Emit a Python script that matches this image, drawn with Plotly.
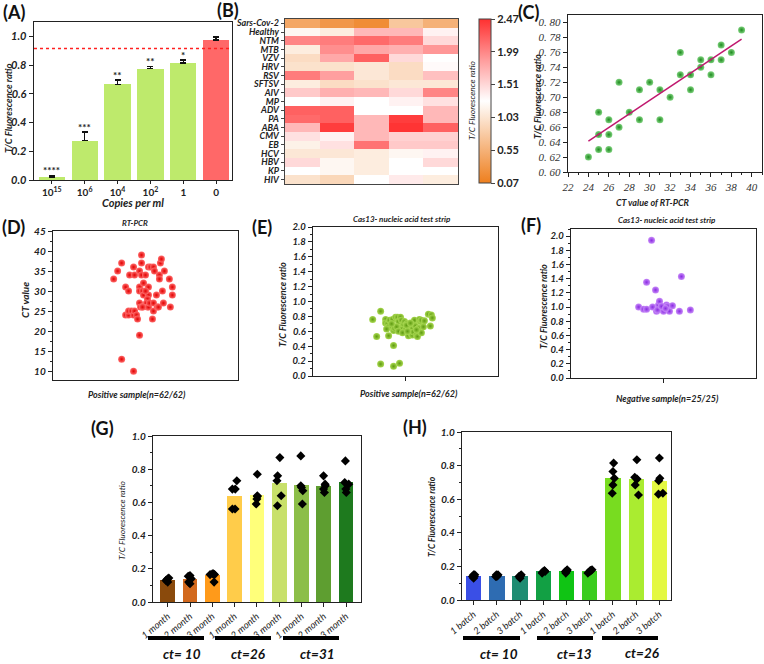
import numpy as np
import plotly.graph_objects as go

W, H = 764, 664
def px(x): return x / W
def py(y): return 1 - y / H

# ---------------- data ----------------
# Panel A
a_cats = ["10<sup>15</sup>", "10<sup>6</sup>", "10<sup>4</sup>", "10<sup>2</sup>", "1", "0"]
a_vals = [0.02, 0.275, 0.665, 0.775, 0.815, 0.975]
a_err = [0.012, 0.06, 0.03, 0.015, 0.02, 0.02]
a_stars = ["****", "***", "**", "**", "*", ""]
a_cutoff = 0.915

# Panel B
b_rows = ["Sars-Cov-2", "Healthy", "NTM", "MTB", "VZV", "HRV", "RSV", "SFTSV", "AIV", "MP",
          "ADV", "PA", "ABA", "CMV", "EB", "HCV", "HBV", "KP", "HIV"]
b_cols = [1, 2, 3, 4, 5]
b_vals = [
    [0.45, 0.30, 0.20, 0.75, 0.55],
    [1.20, 1.10, 1.70, 1.70, 1.35],
    [2.00, 2.05, 2.15, 2.05, 1.50],
    [1.10, 1.95, 1.80, 1.75, 1.90],
    [0.95, 1.80, 2.20, 1.50, 1.27],
    [1.00, 1.00, 1.05, 0.95, 1.30],
    [2.05, 1.85, 1.05, 0.95, 1.65],
    [1.10, 0.95, 1.00, 1.05, 1.05],
    [1.60, 1.75, 1.70, 1.50, 2.00],
    [1.27, 1.35, 1.27, 1.35, 1.45],
    [2.20, 2.20, 1.27, 1.27, 1.70],
    [2.15, 2.20, 1.70, 2.40, 1.70],
    [1.70, 2.40, 1.70, 2.45, 2.20],
    [1.45, 1.35, 1.70, 1.55, 1.55],
    [1.15, 1.45, 2.10, 1.60, 1.60],
    [1.05, 1.05, 1.10, 1.20, 1.35],
    [1.50, 1.20, 1.10, 1.27, 1.50],
    [1.27, 1.20, 1.10, 1.27, 1.27],
    [1.00, 0.90, 1.27, 1.40, 1.10],
]
b_ticks = [0.07, 0.55, 1.03, 1.51, 1.99, 2.47]

# Panel C
c_ct = [24, 25, 25, 25, 26, 26, 26, 27, 27, 28, 29, 29, 30, 31, 31, 32, 33, 33, 34, 34, 35, 35,
        36, 36, 37, 37, 38, 39]
c_ratio = [0.62, 0.63, 0.65, 0.68, 0.63, 0.65, 0.67, 0.66, 0.72, 0.68, 0.67, 0.71, 0.72, 0.71,
           0.67, 0.70, 0.76, 0.73, 0.73, 0.71, 0.74, 0.75, 0.75, 0.73, 0.77, 0.75, 0.76, 0.79]
c_yticks = [0.60, 0.62, 0.64, 0.66, 0.68, 0.70, 0.72, 0.74, 0.76, 0.78, 0.80]

# Panel D (jitter offset, CT value)
d_jit = [-32, -28, -24, -20, -17, -20, -17, -17, -14, -12, -11, -9, -8, -24, -12, -6, -16, -11, -12,
         -6, -4, -4, -4, -6, -6, -2, -3, 0, -2, -6, -5, -3, 3, 5, 8, 9, 3, 3, 2, 1, 2, 3, 4, 8, 8, 7,
         12, 13, 11, 15, 16, 14, 14, 19, 17, 18, 24, 27, 27, 25, 0, -3]
d_ct = [33, 35, 37, 31, 30, 24, 24, 25, 25, 24, 25, 24, 23, 13, 10, 19, 34, 34, 36,
        35, 39, 37, 34, 31, 30, 32, 30, 34, 29, 27, 26, 26, 36, 36, 36, 35, 31, 29, 28, 27, 26, 26, 27, 27, 25, 23,
        26, 26, 29, 37, 38, 34, 33, 35, 30, 27, 33, 31, 29, 26, 30, 26]

# Panel E
e_jit = [-33, -25, -29, -25, -12, -6, -12, -17, -20, -20, -18, -17, -16, -13, -12, -10, -9, -8, -7, -6,
         -5, -4, -4, -3, -2, -1, 0, 1, 3, 3, 4, 5, 6, 7, 7, 8, 9, 9, 10, 11, 12, 13, 14, 15, 16, 16,
         18, 19, 23, 25, 26, 27, -11, -9, -7, -3, 1, 2, 5, 11, -14, -19]
e_ratio = [0.76, 0.87, 0.53, 0.16, 0.13, 0.17, 0.41, 0.54, 0.76, 0.71, 0.70, 0.66, 0.75, 0.76, 0.61,
           0.79, 0.66, 0.79, 0.73, 0.62, 0.79, 0.75, 0.65, 0.63, 0.70, 0.73, 0.62, 0.70, 0.54, 0.64,
           0.60, 0.66, 0.56, 0.55, 0.63, 0.59, 0.72, 0.75, 0.67, 0.55, 0.53, 0.64, 0.76, 0.73, 0.58,
           0.75, 0.66, 0.74, 0.83, 0.67, 0.82, 0.78, 0.64, 0.66, 0.60, 0.58, 0.68, 0.60, 0.71, 0.62,
           0.70, 0.63]

# Panel F
f_jit = [-12, -17, -8, 18, -25, -20, -17, -11, -7, -5, -4, -3, -2, -1, 0, 1, 3, 4, 6, 9, 16, 27, -6, -2, 2]
f_ratio = [1.94, 1.35, 1.24, 1.43, 1.00, 0.97, 0.97, 1.00, 0.94, 1.03, 1.08, 0.97, 1.00, 0.98, 0.94,
           1.00, 1.03, 1.01, 0.94, 1.02, 0.94, 0.96, 0.96, 1.01, 0.98]

# Panel G
g_labels = ["1 month", "2 month", "3 month"] * 3
g_groups = ["ct= 10", "ct=26", "ct=31"]
g_means = [0.13, 0.14, 0.16, 0.64, 0.645, 0.715, 0.705, 0.70, 0.72]
g_points = [
    [0.12, 0.13, 0.14, 0.145, 0.13],
    [0.11, 0.12, 0.14, 0.155, 0.16],
    [0.12, 0.165, 0.17, 0.165, 0.17],
    [0.56, 0.56, 0.68, 0.68, 0.73],
    [0.59, 0.62, 0.64, 0.635, 0.77],
    [0.58, 0.64, 0.73, 0.76, 0.87],
    [0.59, 0.67, 0.69, 0.70, 0.88],
    [0.66, 0.68, 0.70, 0.71, 0.76],
    [0.66, 0.68, 0.71, 0.72, 0.85],
]
g_jit = [
    [0.0, -0.05, 0.0, 0.05, -0.08],
    [0.0, -0.06, 0.06, -0.08, 0.0],
    [0.08, -0.1, 0.0, 0.1, 0.05],
    [-0.1, 0.02, -0.1, 0.03, 0.1],
    [-0.03, 0.0, 0.02, 0.02, 0.02],
    [-0.08, 0.09, -0.1, -0.07, 0.03],
    [0.04, 0.06, 0.0, -0.03, -0.03],
    [0.03, -0.01, 0.07, 0.06, -0.01],
    [0.01, -0.01, 0.12, -0.06, -0.03],
]

# Panel H
h_labels = ["1 batch", "2 batch", "3 batch"] * 3
h_groups = ["ct= 10", "ct=13", "ct=26"]
h_means = [0.14, 0.145, 0.145, 0.17, 0.17, 0.17, 0.725, 0.72, 0.71]
h_points = [
    [0.13, 0.14, 0.15, 0.15, 0.14],
    [0.14, 0.15, 0.14, 0.15, 0.145],
    [0.13, 0.14, 0.15, 0.145, 0.14],
    [0.16, 0.17, 0.175, 0.17, 0.165],
    [0.16, 0.17, 0.18, 0.17, 0.175],
    [0.16, 0.17, 0.175, 0.18, 0.175],
    [0.635, 0.685, 0.725, 0.765, 0.815],
    [0.625, 0.685, 0.72, 0.73, 0.835],
    [0.63, 0.635, 0.71, 0.725, 0.845],
]
h_jit = [
    [0.0, -0.05, 0.05, 0.0, 0.03],
    [-0.05, 0.05, 0.0, -0.02, 0.03],
    [0.0, -0.05, 0.05, 0.02, 0.0],
    [-0.05, 0.0, 0.05, 0.08, -0.03],
    [-0.03, 0.0, 0.03, -0.05, 0.02],
    [-0.08, 0.0, 0.05, 0.1, 0.02],
    [-0.03, 0.0, 0.06, 0.0, 0.03],
    [0.1, -0.04, 0.04, -0.06, 0.03],
    [-0.04, 0.15, -0.03, 0.02, 0.0],
]

# ---------------- styles ----------------
SANS = "Lato"
AX = "#222222"
bi = lambda s, c=AX: dict(family=SANS, size=s, color=c, weight="bold", style="italic")
it = lambda s, c=AX: dict(family=SANS, size=s, color=c, style="italic")

fig = go.Figure()

def box_axis(**kw):
    d = dict(showline=True, linecolor=AX, linewidth=1.3, mirror=True, showgrid=False,
             zeroline=False, ticks="outside", ticklen=4, tickcolor=AX, tickwidth=1, automargin=False)
    d.update(kw)
    return d

# ---- Panel A ----
a_colors = ["#BEEA6C"] * 5 + ["#FF6868"]
fig.add_trace(go.Bar(x=list(range(6)), y=a_vals, marker=dict(color=a_colors, line=dict(width=0)),
                     width=0.8, xaxis="x", yaxis="y",
                     error_y=dict(type="data", symmetric=False, array=a_err, arrayminus=[0] * 6,
                                  color="#111", thickness=1.5, width=3)))
fig.add_shape(type="line", xref="x domain", yref="y", x0=0, x1=1, y0=a_cutoff, y1=a_cutoff,
              line=dict(color="#FF2020", width=1.5, dash="dot"))
for i, s in enumerate(a_stars):
    if s:
        fig.add_annotation(x=i, y=a_vals[i] + a_err[i] + 0.035, xref="x", yref="y", text=s,
                           showarrow=False, font=dict(family=SANS, size=10, color="#222", weight="bold"))

# ---- Panel B ----
b_scale = [[0, "#EE7F1E"], [0.25, "#F7BE8E"], [0.5, "#FFFFFF"], [0.75, "#FF9C9C"], [1, "#FF3030"]]
fig.add_trace(go.Heatmap(z=b_vals, x=b_cols, y=b_rows, xaxis="x2", yaxis="y2", colorscale=b_scale,
                         zmin=0.07, zmax=2.47,
                         colorbar=dict(x=px(479), xanchor="left", y=py(101), yanchor="middle",
                                       len=164 / H, lenmode="fraction", thickness=12,
                                       thicknessmode="pixels", outlinewidth=1, outlinecolor="#444",
                                       ticks="outside", ticklen=4, tickvals=b_ticks,
                                       ticktext=[f"{v:.2f}" for v in b_ticks],
                                       tickfont=dict(family=SANS, size=11, color="#222", weight="bold"),
                                       xpad=0, ypad=0)))

# ---- Panel C ----
fig.add_trace(go.Scatter(x=c_ct, y=c_ratio, mode="markers", xaxis="x3", yaxis="y3",
                         marker=dict(size=7, color="#7CD07C", gradient=dict(type="radial", color="#1E8A1E"),
                                     line=dict(width=0))))
k, b0 = np.polyfit(c_ct, c_ratio, 1)
xl = np.array([min(c_ct), max(c_ct)])
fig.add_trace(go.Scatter(x=xl, y=k * xl + b0, mode="lines", xaxis="x3", yaxis="y3",
                         line=dict(color="#C0186E", width=1.5)))

# ---- Panel D ----
fig.add_trace(go.Scatter(x=d_jit, y=d_ct, mode="markers", xaxis="x4", yaxis="y4",
                         marker=dict(size=7, color="#FF6A6A", gradient=dict(type="radial", color="#E00000"),
                                     line=dict(width=0))))
# ---- Panel E ----
fig.add_trace(go.Scatter(x=e_jit, y=e_ratio, mode="markers", xaxis="x5", yaxis="y5",
                         marker=dict(size=7, color="#A8D850", gradient=dict(type="radial", color="#5E9A10"),
                                     line=dict(width=0))))
# ---- Panel F ----
fig.add_trace(go.Scatter(x=f_jit, y=f_ratio, mode="markers", xaxis="x6", yaxis="y6",
                         marker=dict(size=7, color="#C78AF8", gradient=dict(type="radial", color="#8A2BE2"),
                                     line=dict(width=0))))

# ---- Panel G ----
g_colors = ["#8A4A0C", "#D2691E", "#FF9A1A", "#FFCC4A", "#FFFF7A", "#C8E06A", "#8CBE48", "#5E9E30", "#1E7A1E"]
fig.add_trace(go.Bar(x=list(range(9)), y=g_means, width=0.66, marker=dict(color=g_colors, line=dict(width=0)),
                     xaxis="x7", yaxis="y7"))
gx, gy = [], []
for i in range(9):
    for j, v in zip(g_jit[i], g_points[i]):
        gx.append(i + j); gy.append(v)
fig.add_trace(go.Scatter(x=gx, y=gy, mode="markers", xaxis="x7", yaxis="y7",
                         marker=dict(symbol="diamond", size=7, color="black")))

# ---- Panel H ----
h_colors = ["#3A4FE6", "#2E6CB2", "#1E8C72", "#12A044", "#10C414", "#3ACC1E", "#78DC20", "#AAEC30", "#E4F842"]
fig.add_trace(go.Bar(x=list(range(9)), y=h_means, width=0.66, marker=dict(color=h_colors, line=dict(width=0)),
                     xaxis="x8", yaxis="y8"))
hx, hy = [], []
for i in range(9):
    for j, v in zip(h_jit[i], h_points[i]):
        hx.append(i + j); hy.append(v)
fig.add_trace(go.Scatter(x=hx, y=hy, mode="markers", xaxis="x8", yaxis="y8",
                         marker=dict(symbol="diamond", size=7, color="black")))

# ---------------- axes ----------------
lay = dict(
    xaxis=box_axis(domain=[px(34), px(232)], range=[-0.54, 5.48], tickvals=list(range(6)), ticktext=a_cats,
                   tickfont=dict(family=SANS, size=10, color=AX, weight="bold"), ticklen=3, anchor="y"),
    yaxis=box_axis(domain=[py(180), py(22)], range=[0, 1.1], tickvals=[0, 0.2, 0.4, 0.6, 0.8, 1.0],
                   tickformat=".1f", tickfont=bi(11), anchor="x"),
    xaxis2=dict(domain=[px(285), px(458)], range=[0.5, 5.5], showticklabels=False, ticks="",
                showline=True, linecolor="#444", linewidth=1.3, mirror=True, showgrid=False,
                zeroline=False, anchor="y2", automargin=False),
    yaxis2=dict(domain=[py(184), py(19)], autorange="reversed", ticks="outside", ticklen=3,
                tickmode="array", tickvals=b_rows, ticktext=b_rows,
                tickcolor="#444", showline=True, linecolor="#444", linewidth=1.3, mirror=True,
                tickfont=bi(9), showgrid=False, zeroline=False, anchor="x2", automargin=False),
    xaxis3=box_axis(domain=[px(568), px(762)], range=[22, 41], tickvals=list(range(22, 41, 2)),
                    tickfont=dict(family="Liberation Serif", size=11, color="#333", style="italic"),
                    minor=dict(ticks="outside", ticklen=2, dtick=1, tickcolor=AX), anchor="y3"),
    yaxis3=box_axis(domain=[py(172), py(15)], range=[0.60, 0.81], tickvals=c_yticks,
                    ticktext=[f"0. {int(round(v * 100))}" for v in c_yticks],
                    tickfont=dict(family="Liberation Serif", size=11, color="#333", style="italic"),
                    anchor="x3"),
    xaxis4=box_axis(domain=[px(53), px(238)], range=[-93, 93], showticklabels=False, ticks="", anchor="y4"),
    yaxis4=box_axis(domain=[py(380), py(231)], range=[7.8, 45], tickvals=list(range(10, 46, 5)),
                    tickfont=bi(10), minor=dict(ticks="outside", ticklen=2, dtick=2.5, tickcolor=AX),
                    anchor="x4"),
    xaxis5=box_axis(domain=[px(313), px(498)], range=[-93, 93], tickvals=[0], showticklabels=False, anchor="y5"),
    yaxis5=box_axis(domain=[py(376), py(227)], range=[0, 2.0], dtick=0.2, tickformat=".1f",
                    tickfont=bi(9.5), minor=dict(ticks="outside", ticklen=2, dtick=0.1, tickcolor=AX),
                    anchor="x5"),
    xaxis6=box_axis(domain=[px(571), px(756)], range=[-93, 93], tickvals=[0], showticklabels=False, anchor="y6"),
    yaxis6=box_axis(domain=[py(378), py(229)], range=[0, 2.1], tickvals=[round(0.2 * i, 1) for i in range(11)],
                    tickformat=".1f", tickfont=bi(9.5),
                    minor=dict(ticks="outside", ticklen=2, dtick=0.1, tickcolor=AX), anchor="x6"),
    xaxis7=box_axis(domain=[px(153), px(361)], range=[-0.66, 8.67], tickvals=list(range(9)), ticktext=g_labels,
                    tickangle=-40, tickfont=it(9.5), anchor="y7"),
    yaxis7=box_axis(domain=[py(602), py(436)], range=[0, 1.0], dtick=0.2, tickformat=".1f", tickfont=bi(10),
                    minor=dict(ticks="outside", ticklen=2, dtick=0.1, tickcolor=AX), anchor="x7"),
    xaxis8=box_axis(domain=[px(462), px(671)], range=[-0.5, 8.5], tickvals=list(range(9)), ticktext=h_labels,
                    tickangle=-40, tickfont=it(9.5), anchor="y8"),
    yaxis8=box_axis(domain=[py(600), py(432)], range=[0, 1.0], dtick=0.2, tickformat=".1f", tickfont=bi(10),
                    minor=dict(ticks="outside", ticklen=2, dtick=0.1, tickcolor=AX), anchor="x8"),
)

anns = []
def ann(x, y, text, font, angle=0, xa="center"):
    anns.append(dict(x=px(x), y=py(y), xref="paper", yref="paper", text=text, showarrow=False,
                     font=font, textangle=angle, xanchor=xa, yanchor="middle"))

# panel letters
for lbl, x, y in [("(A)", 14, 12), ("(B)", 228, 10), ("(C)", 528, 12), ("(D)", 14, 227),
                  ("(E)", 262, 227), ("(F)", 531, 225), ("(G)", 102, 428), ("(H)", 415, 427)]:
    ann(x, y, lbl, dict(family=SANS, size=18, color="#111", weight="bold"))

# axis titles
ann(8, 108, "T/C Fluorescence ratio", bi(9.5), -90)
ann(133, 202, "Copies per ml", bi(11))
ann(472, 100, "T/C Fluorescence ratio", it(8.5), -90)
ann(537, 97, "T/C Fluorescence ratio", bi(9), -90)
ann(652, 202, "CT value of RT-PCR", bi(9))
ann(135, 223, "RT-PCR", bi(8))
ann(25, 300, "CT value", bi(10), -90)
ann(137, 394, "Positive sample(n=62/62)", bi(9))
ann(402, 219, "Cas13- nucleic acid test strip", bi(8))
ann(283, 305, "T/C Fluorescence ratio", bi(9), -90)
ann(409, 393, "Positive sample(n=62/62)", bi(9))
ann(667, 220, "Cas13- nucleic acid test strip", bi(8))
ann(543, 307, "T/C Fluorescence ratio", bi(9), -90)
ann(667, 398, "Negative sample(n=25/25)", bi(9))
ann(122, 520, "T/C Fluorescence ratio", it(8.5), -90)
ann(432, 517, "T/C Fluorescence ratio", bi(8.5), -90)

# group labels + underlines
shapes = []
for (x0, x1), (cx, cy), t in zip([(148, 204), (215, 271), (283, 339)], [(182, 654), (248, 654), (317, 654)], g_groups):
    shapes.append(dict(type="line", xref="paper", yref="paper", x0=px(x0), x1=px(x1), y0=py(638), y1=py(638),
                       line=dict(color="black", width=4)))
    ann(cx, cy, t, bi(13.5, "#111"))
for (x0, x1), (cx, cy), t in zip([(463, 520), (537, 593), (602, 658)], [(499, 654), (574, 654), (642, 653)], h_groups):
    shapes.append(dict(type="line", xref="paper", yref="paper", x0=px(x0), x1=px(x1), y0=py(638), y1=py(638),
                       line=dict(color="black", width=4)))
    ann(cx, cy, t, bi(13.5, "#111"))

fig.update_layout(**lay)
fig.update_layout(annotations=list(fig.layout.annotations) + anns, shapes=list(fig.layout.shapes) + shapes,
                  width=W, height=H, margin=dict(l=0, r=0, t=0, b=0, pad=0, autoexpand=False), showlegend=False,
                  paper_bgcolor="white", plot_bgcolor="white", bargap=0, hovermode=False)

fig.write_html("out.html", config={"displayModeBar": False, "staticPlot": True},
               post_script="document.body.style.margin='0px';document.body.style.overflow='hidden';")
